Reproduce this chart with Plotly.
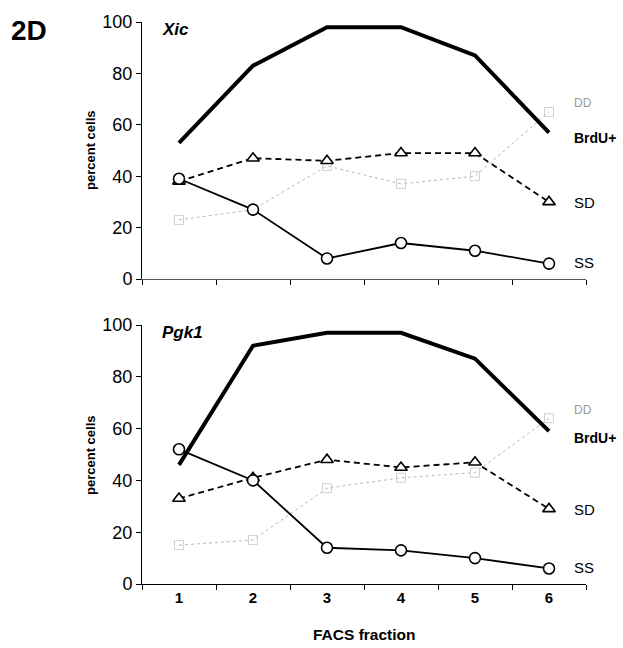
import plotly.graph_objects as go

fractions = ["1", "2", "3", "4", "5", "6"]

xic_brdu = [53, 83, 98, 98, 87, 57]
xic_sd = [38, 47, 46, 49, 49, 30]
xic_ss = [39, 27, 8, 14, 11, 6]
xic_dd = [23, 27, 44, 37, 40, 65]

pgk_brdu = [46, 92, 97, 97, 87, 59]
pgk_sd = [33, 41, 48, 45, 47, 29]
pgk_ss = [52, 40, 14, 13, 10, 6]
pgk_dd = [15, 17, 37, 41, 43, 64]

series_names = ["DD", "BrdU+", "SD", "SS"]
y_ticks = [0, 20, 40, 60, 80, 100]

FONT = "Liberation Sans, Arial, sans-serif"
W, H = 623, 648

fig = go.Figure()

def add_panel(xa, ya, brdu, sd, ss, dd):
    fig.add_trace(go.Scatter(x=fractions, y=dd, mode="lines+markers", xaxis=xa, yaxis=ya,
                             line=dict(color="#b8b8b8", width=1, dash="dot"),
                             marker=dict(symbol="square-open", size=9, color="#d0d0d0",
                                         line=dict(width=1)), showlegend=False))
    fig.add_trace(go.Scatter(x=fractions, y=brdu, mode="lines", xaxis=xa, yaxis=ya,
                             line=dict(color="black", width=4), showlegend=False))
    fig.add_trace(go.Scatter(x=fractions, y=sd, mode="lines+markers", xaxis=xa, yaxis=ya,
                             line=dict(color="black", width=1.8, dash="6px,4px"),
                             marker=dict(symbol="triangle-up", size=11, color="white",
                                         line=dict(color="black", width=1.6)), showlegend=False))
    fig.add_trace(go.Scatter(x=fractions, y=ss, mode="lines+markers", xaxis=xa, yaxis=ya,
                             line=dict(color="black", width=1.8),
                             marker=dict(symbol="circle", size=11, color="white",
                                         line=dict(color="black", width=1.6)), showlegend=False))

add_panel("x", "y", xic_brdu, xic_sd, xic_ss, xic_dd)
add_panel("x2", "y2", pgk_brdu, pgk_sd, pgk_ss, pgk_dd)

xdom = [142 / W, 586 / W]
top_dom = [1 - 279 / H, 1 - 22 / H]
bot_dom = [1 - 584 / H, 1 - 325 / H]

xcommon = dict(type="category", range=[-0.5, 5.5], tickson="boundaries", ticks="outside",
               ticklen=5, tickcolor="black", showline=True, linecolor="black", linewidth=1,
               showgrid=False, zeroline=False, domain=xdom, automargin=False,
               tickfont=dict(family=FONT, size=15, color="black", weight="bold"))
ycommon = dict(range=[0, 100], tickvals=y_ticks, ticks="outside", ticklen=5, tickcolor="black",
               showline=True, linecolor="black", linewidth=1, showgrid=False, zeroline=False,
               automargin=False, tickfont=dict(family=FONT, size=18, color="black"))

fig.update_layout(
    width=W, height=H, margin=dict(l=0, r=0, t=0, b=0, pad=0, autoexpand=False),
    paper_bgcolor="white", plot_bgcolor="white",
    xaxis=dict(xcommon, anchor="y", showticklabels=False, linecolor="#555555"),
    yaxis=dict(ycommon, domain=top_dom, anchor="x"),
    xaxis2=dict(xcommon, anchor="y2"),
    yaxis2=dict(ycommon, domain=bot_dom, anchor="x2"),
)

def ann(text, px, py, size, bold=False, italic=False, color="black", xanchor="left", angle=0):
    t = text
    if bold:
        t = "<b>" + t + "</b>"
    if italic:
        t = "<i>" + t + "</i>"
    fig.add_annotation(text=t, x=px / W, y=1 - py / H, xref="paper", yref="paper",
                       xanchor=xanchor, yanchor="middle", showarrow=False, textangle=angle,
                       font=dict(family=FONT, size=size, color=color))

ann("2D", 9, 31, 28, bold=True)
ann("Xic", 160, 30, 17, bold=True, italic=True)
ann("Pgk1", 160, 333, 17, bold=True, italic=True)
ann("percent cells", 90, 150, 13, bold=True, xanchor="center", angle=-90)
ann("percent cells", 90, 455, 13, bold=True, xanchor="center", angle=-90)
ann("FACS fraction", 364, 634, 15.5, bold=True, xanchor="center")

# right-side series labels
top_label_y = [103, 138, 202, 262]
bot_label_y = [410, 438, 509, 567]
styles = [dict(size=12, color="#999999"), dict(size=14, bold=True),
          dict(size=15), dict(size=15)]
for name, ty, by, st in zip(series_names, top_label_y, bot_label_y, styles):
    ann(name, 572, ty, st["size"], bold=st.get("bold", False), color=st.get("color", "black"))
    ann(name, 572, by, st["size"], bold=st.get("bold", False), color=st.get("color", "black"))

fig.write_html("out.html", config={"responsive": False, "displayModeBar": False},
               post_script="document.body.style.margin='0';document.body.style.overflow='hidden';")
